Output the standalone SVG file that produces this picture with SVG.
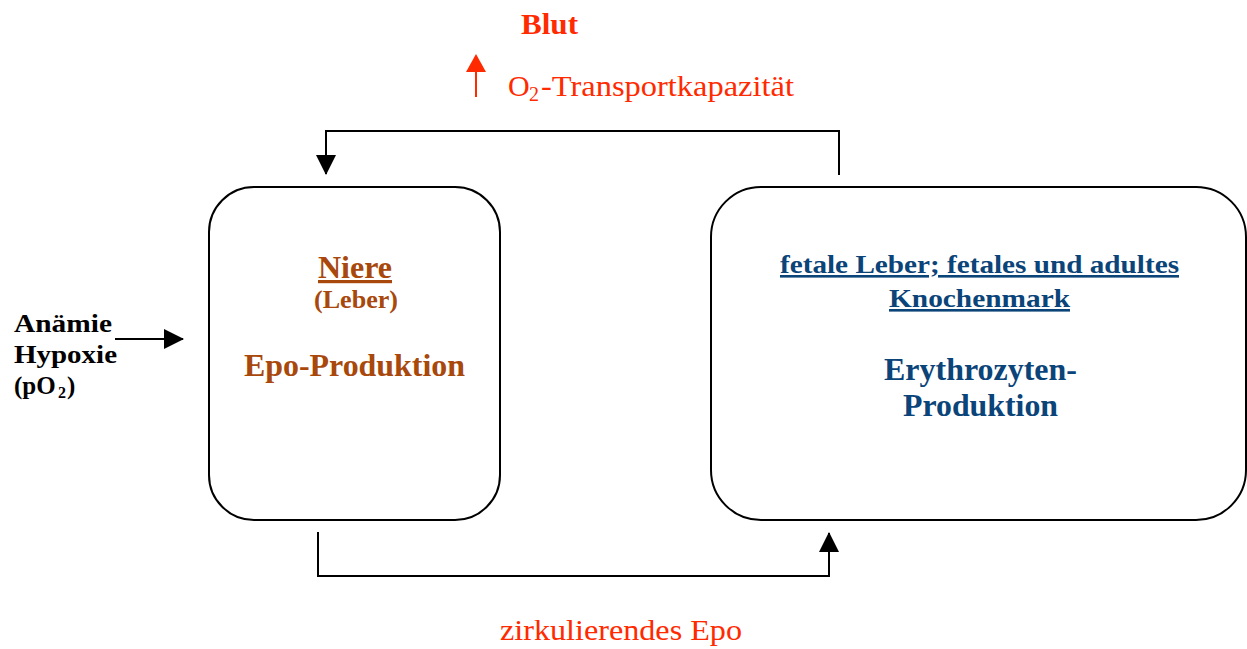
<svg xmlns="http://www.w3.org/2000/svg" width="1247" height="649" viewBox="0 0 1247 649">
<style>
text{font-family:"Liberation Serif","Times New Roman",serif}
.b{font-weight:bold}
.red{fill:#ff2a00}
.brown{fill:#a8480c}
.blue{fill:#0b4478}
.box{fill:#fff;stroke:#000;stroke-width:2}
.con{fill:none;stroke:#000;stroke-width:2}
</style>
<defs>
<marker id="ah" markerWidth="20" markerHeight="20" refX="19" refY="10" orient="auto" markerUnits="userSpaceOnUse" viewBox="0 0 20 20"><path d="M0,0 L20,10 L0,20 Z" fill="#000"/></marker>
</defs>
<rect width="1247" height="649" fill="#fff"/>
<g id="blut">
<text x="521" y="34" class="b red" font-size="30" textLength="57" lengthAdjust="spacingAndGlyphs">Blut</text>
<line x1="476" y1="97" x2="476" y2="68" stroke="#ff2a00" stroke-width="2"/>
<path d="M466,72 L476,54 L486,72 Z" fill="#ff2a00"/>
<text x="508" y="96" class="red" font-size="30">O</text>
<text x="529" y="101" class="red" font-size="20">2</text>
<text x="541" y="96" class="red" font-size="30" textLength="253" lengthAdjust="spacingAndGlyphs">-Transportkapazität</text>
</g>
<g id="niere">
<rect x="209" y="187" width="291" height="333" rx="45" class="box"/>
<text x="318" y="278" class="b brown" font-size="32" text-decoration="underline" textLength="74" lengthAdjust="spacingAndGlyphs">Niere</text>
<text x="314" y="308" class="b brown" font-size="25" textLength="84" lengthAdjust="spacingAndGlyphs">(Leber)</text>
<text x="244" y="376" class="b brown" font-size="32" textLength="221" lengthAdjust="spacingAndGlyphs">Epo-Produktion</text>
</g>
<g id="knochenmark">
<rect x="711" y="187" width="535" height="333" rx="50" class="box"/>
<text x="780" y="273" class="b blue" font-size="26" text-decoration="underline" textLength="399" lengthAdjust="spacingAndGlyphs">fetale Leber; fetales und adultes</text>
<text x="889" y="307" class="b blue" font-size="26" text-decoration="underline" textLength="181" lengthAdjust="spacingAndGlyphs">Knochenmark</text>
<text x="884" y="380" class="b blue" font-size="31" textLength="193" lengthAdjust="spacingAndGlyphs">Erythrozyten-</text>
<text x="903" y="416" class="b blue" font-size="31" textLength="155" lengthAdjust="spacingAndGlyphs">Produktion</text>
</g>
<g id="anaemie">
<text x="14" y="332" class="b" font-size="25" textLength="98" lengthAdjust="spacingAndGlyphs">Anämie</text>
<text x="14" y="363" class="b" font-size="25" textLength="103" lengthAdjust="spacingAndGlyphs">Hypoxie</text>
<text x="14" y="394" class="b" font-size="25">(pO</text>
<text x="58" y="398" class="b" font-size="16">2</text>
<text x="67" y="394" class="b" font-size="25">)</text>
</g>
<g id="epo-label">
<text x="500" y="640" class="red" font-size="30" textLength="242" lengthAdjust="spacingAndGlyphs">zirkulierendes Epo</text>
</g>
<g id="connectors">
<polyline points="115,339 183,339" class="con" marker-end="url(#ah)"/>
<polyline points="839,175 839,131 326,131 326,174" class="con" marker-end="url(#ah)"/>
<polyline points="318,532 318,576 829,576 829,533" class="con" marker-end="url(#ah)"/>
</g>
</svg>
